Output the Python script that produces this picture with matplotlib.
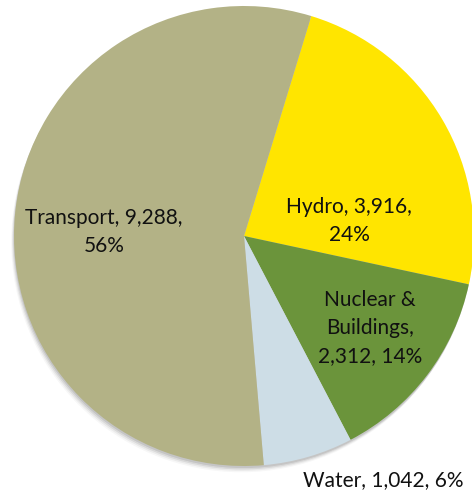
import matplotlib
matplotlib.use("Agg")
import matplotlib.pyplot as plt
from matplotlib.patches import Circle

categories = ["Hydro", "Nuclear &\nBuildings", "Water", "Transport"]
values = [3916, 2312, 1042, 9288]
percents = ["24%", "14%", "6%", "56%"]
colors = ["#ffe500", "#6b943b", "#cddde6", "#b3b286"]

W, H = 472, 494
cx, cy, R = 244, 236, 230

fig = plt.figure(figsize=(W / 100, H / 100), dpi=100)
ax = fig.add_axes([0, 0, 1, 1])

# soft shadow
for i, a in enumerate([0.09, 0.07, 0.05, 0.03]):
    ax.add_patch(Circle((-(0.5 + i) * 0.8 / R, -(1.5 + i) * 1.4 / R), 1.0,
                        color="black", alpha=a, lw=0, zorder=0))

wedges, _ = ax.pie(values, colors=colors, startangle=73, counterclock=False,
                   radius=1.0, center=(0, 0),
                   wedgeprops=dict(linewidth=0, zorder=1))

ax.set_xlim(-cx / R, (W - cx) / R)
ax.set_ylim(-(H - cy) / R, cy / R)
ax.set_aspect("auto")
ax.axis("off")

def px(x, y):
    return (x - cx) / R, (cy - y) / R

labels = [
    ("Hydro, {:,},\n{}".format(values[0], percents[0]), (349, 221)),
    ("Nuclear &\nBuildings,\n{:,}, {}".format(values[1], percents[1]), (370, 328)),
    ("Water, {:,}, {}".format(values[2], percents[2]), (383, 480)),
    ("Transport, {:,},\n{}".format(values[3], percents[3]), (104, 232)),
]
for text, (x, y) in labels:
    ax.text(*px(x, y), text, ha="center", va="center", fontsize=15,
            family="Lato", color="#111111", linespacing=1.5, zorder=5)

fig.savefig("out.png", dpi=100, facecolor="white")
